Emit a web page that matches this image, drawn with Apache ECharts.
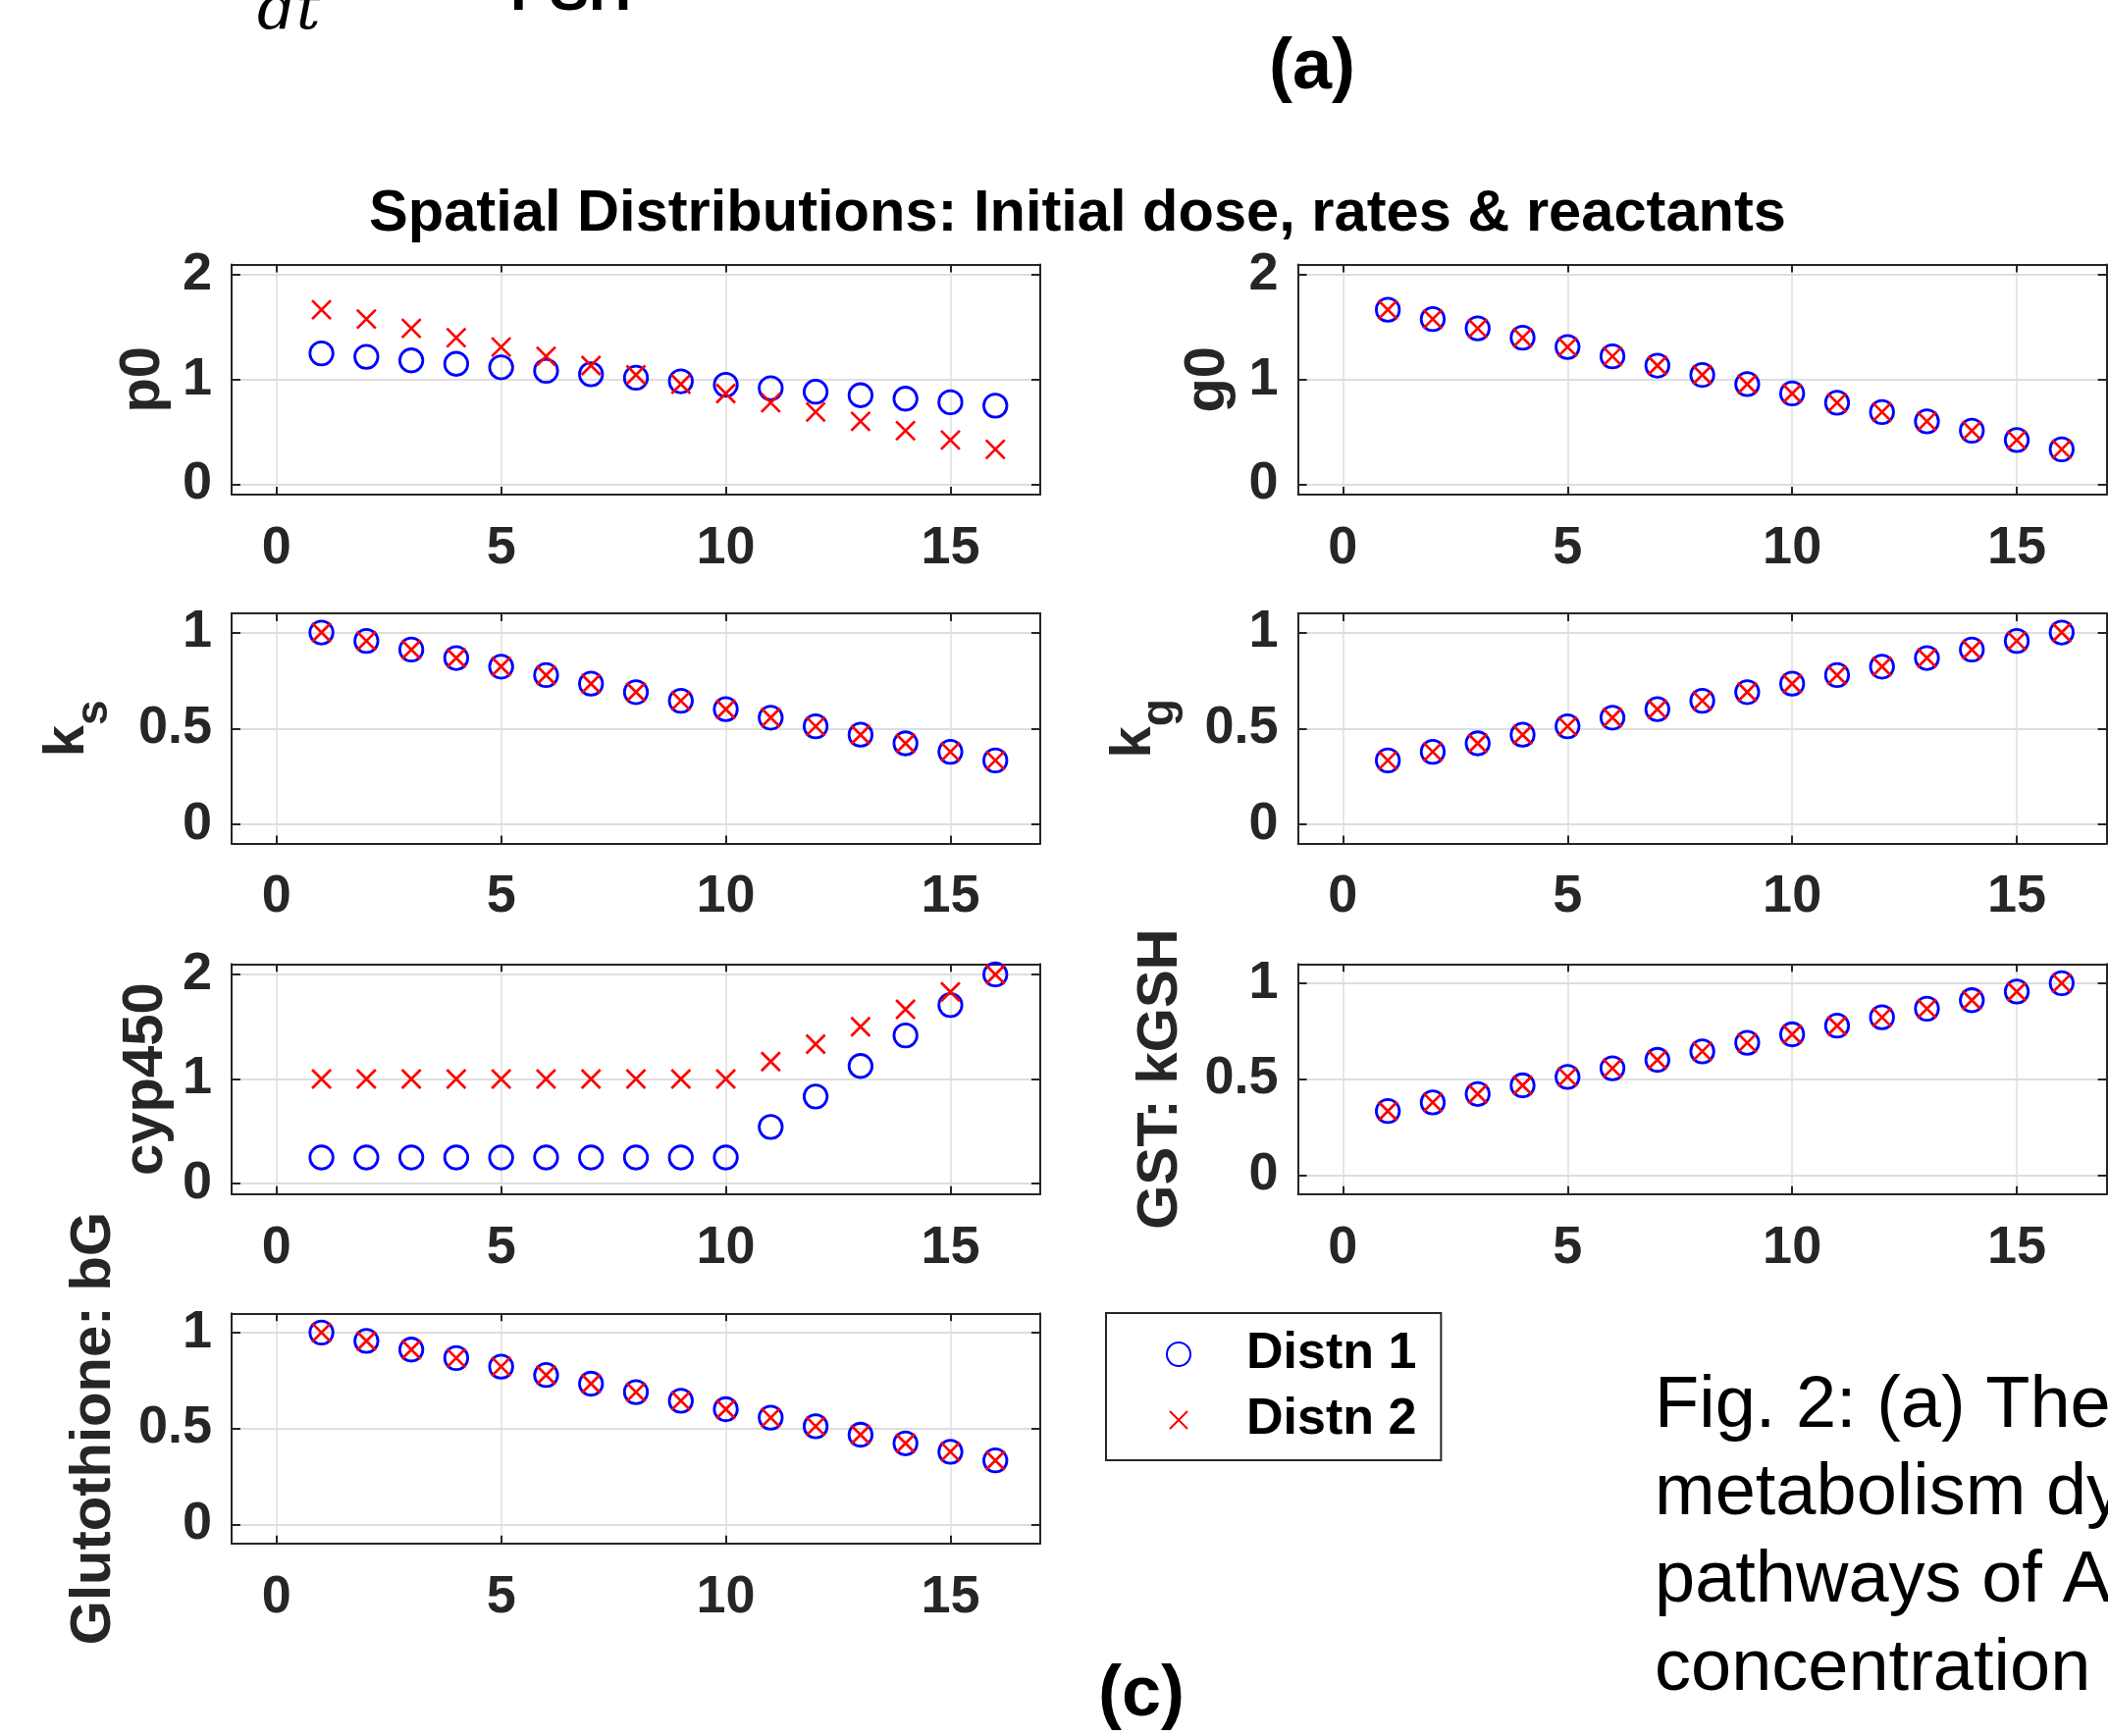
<!DOCTYPE html>
<html>
<head>
<meta charset="utf-8">
<script src="https://cdn.jsdelivr.net/npm/echarts@6/dist/echarts.min.js"></script>
<style>
  html, body { margin: 0; padding: 0; background: #fff; }
  #chart { width: 2148px; height: 1769px; }
</style>
</head>
<body>
<div id="chart"></div>
<script>
// x positions (compartment index) and tick labels
const positions = [1, 2, 3, 4, 5, 6, 7, 8, 9, 10, 11, 12, 13, 14, 15, 16];
const xTicks = [0, 5, 10, 15];
const yTicksWide = [0, 1, 2];
const yTicksNarrow = [0, 0.5, 1];

// values
const p0Distn1 = [1.25, 1.217, 1.183, 1.15, 1.117, 1.083, 1.05, 1.017, 0.983, 0.95, 0.917, 0.883, 0.85, 0.817, 0.783, 0.75];
const p0Distn2 = [1.667, 1.578, 1.489, 1.4, 1.311, 1.222, 1.133, 1.044, 0.956, 0.867, 0.778, 0.689, 0.6, 0.511, 0.422, 0.333];
const g0Distn1 = [1.667, 1.578, 1.489, 1.4, 1.311, 1.222, 1.133, 1.044, 0.956, 0.867, 0.778, 0.689, 0.6, 0.511, 0.422, 0.333];
const g0Distn2 = [1.667, 1.578, 1.489, 1.4, 1.311, 1.222, 1.133, 1.044, 0.956, 0.867, 0.778, 0.689, 0.6, 0.511, 0.422, 0.333];
const ksDistn1 = [1, 0.956, 0.911, 0.867, 0.822, 0.778, 0.733, 0.689, 0.644, 0.6, 0.556, 0.511, 0.467, 0.422, 0.378, 0.333];
const ksDistn2 = [1, 0.956, 0.911, 0.867, 0.822, 0.778, 0.733, 0.689, 0.644, 0.6, 0.556, 0.511, 0.467, 0.422, 0.378, 0.333];
const kgDistn1 = [0.333, 0.378, 0.422, 0.467, 0.511, 0.556, 0.6, 0.644, 0.689, 0.733, 0.778, 0.822, 0.867, 0.911, 0.956, 1];
const kgDistn2 = [0.333, 0.378, 0.422, 0.467, 0.511, 0.556, 0.6, 0.644, 0.689, 0.733, 0.778, 0.822, 0.867, 0.911, 0.956, 1];
const cypDistn1 = [0.25, 0.25, 0.25, 0.25, 0.25, 0.25, 0.25, 0.25, 0.25, 0.25, 0.542, 0.833, 1.125, 1.417, 1.708, 2];
const cypDistn2 = [1, 1, 1, 1, 1, 1, 1, 1, 1, 1, 1.167, 1.333, 1.5, 1.667, 1.833, 2];
const gstDistn1 = [0.333, 0.378, 0.422, 0.467, 0.511, 0.556, 0.6, 0.644, 0.689, 0.733, 0.778, 0.822, 0.867, 0.911, 0.956, 1];
const gstDistn2 = [0.333, 0.378, 0.422, 0.467, 0.511, 0.556, 0.6, 0.644, 0.689, 0.733, 0.778, 0.822, 0.867, 0.911, 0.956, 1];
const bgDistn1 = [1, 0.956, 0.911, 0.867, 0.822, 0.778, 0.733, 0.689, 0.644, 0.6, 0.556, 0.511, 0.467, 0.422, 0.378, 0.333];
const bgDistn2 = [1, 0.956, 0.911, 0.867, 0.822, 0.778, 0.733, 0.689, 0.644, 0.6, 0.556, 0.511, 0.467, 0.422, 0.378, 0.333];

const FONT = "'Liberation Sans', Arial, Helvetica, sans-serif";
const AX = '#262626';
const GRIDC = '#dedede';

// layout
const colLeft = [236, 1322.6];
const rowTop = [269.5, 625, 982.3, 1338.3];
const gW = 824, gH = 234.5;

const panels = [
  { label: 'p0', d1: p0Distn1, d2: p0Distn2, col: 0, row: 0, yMax: 2.1, ticks: yTicksWide, gap: 61 },
  { label: 'g0', d1: g0Distn1, d2: g0Distn2, col: 1, row: 0, yMax: 2.1, ticks: yTicksWide, gap: 63 },
  { label: '{k|k}{s|s}', d1: ksDistn1, d2: ksDistn2, col: 0, row: 1, yMax: 1.1, ticks: yTicksNarrow, gap: 117 },
  { label: '{k|k}{s|g}', d1: kgDistn1, d2: kgDistn2, col: 1, row: 1, yMax: 1.1, ticks: yTicksNarrow, gap: 117 },
  { label: 'cyp450', d1: cypDistn1, d2: cypDistn2, col: 0, row: 2, yMax: 2.1, ticks: yTicksWide, gap: 58 },
  { label: 'GST: kGSH', d1: gstDistn1, d2: gstDistn2, col: 1, row: 2, yMax: 1.1, ticks: yTicksNarrow, gap: 111 },
  { label: 'Glutothione: bG', d1: bgDistn1, d2: bgDistn2, col: 0, row: 3, yMax: 1.1, ticks: yTicksNarrow, gap: 111 }
];

const crossPath = 'path://M0,0L20,20M20,0L0,20';

const grid = [], xAxis = [], yAxis = [], series = [];
panels.forEach((p, i) => {
  grid.push({
    left: colLeft[p.col], top: rowTop[p.row], width: gW, height: gH,
    outerBoundsMode: 'none', containLabel: false
  });
  const lineStyle = { color: AX, width: 2 };
  // bottom x axis with labels
  xAxis.push({
    gridIndex: i, type: 'value', min: -1, max: 17, splitNumber: 4, position: 'bottom',
    axisLine: { show: true, onZero: false, lineStyle },
    axisTick: { show: true, inside: true, length: 8, customValues: xTicks, lineStyle },
    axisLabel: { show: true, customValues: xTicks, margin: 28, fontSize: 54, lineHeight: 54,
      fontWeight: 'bold', fontFamily: FONT, color: AX },
    splitLine: { show: true, lineStyle: { color: GRIDC, width: 1.5 } }
  });
  // top mirror axis (box + ticks)
  xAxis.push({
    gridIndex: i, type: 'value', min: -1, max: 17, splitNumber: 4, position: 'top',
    axisLine: { show: true, onZero: false, lineStyle },
    axisTick: { show: true, inside: true, length: 8, customValues: xTicks, lineStyle },
    axisLabel: { show: false }, splitLine: { show: false }
  });
  const rich = {
    k: { fontSize: 58, fontWeight: 'bold', fontFamily: FONT, color: AX, lineHeight: 100 },
    s: { fontSize: 46, fontWeight: 'bold', fontFamily: FONT, color: AX, lineHeight: 26, verticalAlign: 'bottom' }
  };
  yAxis.push({
    gridIndex: i, type: 'value', min: -0.1, max: p.yMax, splitNumber: 2, position: 'left',
    name: p.label, nameLocation: 'middle', nameRotate: 90, nameGap: p.gap, nameMoveOverlap: false,
    nameTextStyle: { fontSize: 58, lineHeight: 58, fontWeight: 'bold', fontFamily: FONT, color: AX, rich },
    axisLine: { show: true, onZero: false, lineStyle },
    axisTick: { show: true, inside: true, length: 9, customValues: p.ticks, lineStyle },
    axisLabel: { show: true, customValues: p.ticks, margin: 20, fontSize: 54, lineHeight: 54,
      fontWeight: 'bold', fontFamily: FONT, color: AX },
    splitLine: { show: true, lineStyle: { color: GRIDC, width: 2 } }
  });
  yAxis.push({
    gridIndex: i, type: 'value', min: -0.1, max: p.yMax, splitNumber: 2, position: 'right',
    axisLine: { show: true, onZero: false, lineStyle },
    axisTick: { show: true, inside: true, length: 9, customValues: p.ticks, lineStyle },
    axisLabel: { show: false }, splitLine: { show: false }
  });
  series.push({
    name: 'Distn 1', type: 'scatter', xAxisIndex: 2 * i, yAxisIndex: 2 * i,
    data: positions.map((x, k) => [x, p.d1[k]]),
    symbol: 'circle', symbolSize: 23.5,
    itemStyle: { color: 'transparent', borderColor: '#0000ff', borderWidth: 2.8, opacity: 1 },
    emphasis: { disabled: true }, z: 3
  });
  series.push({
    name: 'Distn 2', type: 'scatter', xAxisIndex: 2 * i, yAxisIndex: 2 * i,
    data: positions.map((x, k) => [x, p.d2[k]]),
    symbol: crossPath, symbolSize: 19, symbolKeepAspect: true,
    itemStyle: { color: 'transparent', borderColor: '#ff0000', borderWidth: 2.7, opacity: 1 },
    emphasis: { disabled: true }, z: 4
  });
});

function txt(text, x, y, size, weight, align, family, style) {
  return {
    type: 'text', x, y, silent: true,
    style: { text, fontSize: size, fontWeight: weight, fontStyle: style || 'normal',
      fontFamily: family || FONT, fill: '#000', align: align || 'left', verticalAlign: 'middle' }
  };
}

const option = {
  backgroundColor: '#fff',
  animation: false,
  title: {
    text: 'Spatial Distributions: Initial dose, rates & reactants',
    left: 1098, top: 189, textAlign: 'center', padding: 0,
    textStyle: { fontSize: 59.6, lineHeight: 60, fontWeight: 'bold', fontFamily: FONT, color: '#000' }
  },
  legend: {
    orient: 'vertical', left: 1127, top: 1338,
    padding: [16, 25, 15, 61], itemGap: 15, itemWidth: 24, itemHeight: 24,
    borderColor: AX, borderWidth: 2, backgroundColor: '#fff',
    data: [
      { name: 'Distn 1' },
      { name: 'Distn 2', icon: 'path://M-3,-3M0,0L18,18M18,0L0,18M21,21' }
    ],
    formatter: name => '{sp| }' + name,
    textStyle: {
      fontSize: 52, lineHeight: 52, fontWeight: 'bold', fontFamily: FONT, color: '#000',
      rich: { sp: { width: 52, fontSize: 52, lineHeight: 52 } }
    },
    selectedMode: false
  },
  grid, xAxis, yAxis, series,
  graphic: [
    txt('dt', 262, 13, 62, 'normal', 'left', "'DejaVu Serif', serif", 'italic'),
    txt('PSH', 520, -7, 60, 'bold', 'left'),
    txt('(a)', 1337, 70, 72, 'bold', 'center'),
    txt('(c)', 1163, 1728, 72, 'bold', 'center'),
    txt('Fig. 2: (a) The', 1686, 1434, 74, 'normal'),
    txt('metabolism dy', 1686, 1523, 74, 'normal'),
    txt('pathways of A', 1686, 1612, 74, 'normal'),
    txt('concentration', 1686, 1702, 74, 'normal')
  ]
};

const chart = echarts.init(document.getElementById('chart'), null, { renderer: 'canvas' });
chart.setOption(option);
</script>
</body>
</html>
